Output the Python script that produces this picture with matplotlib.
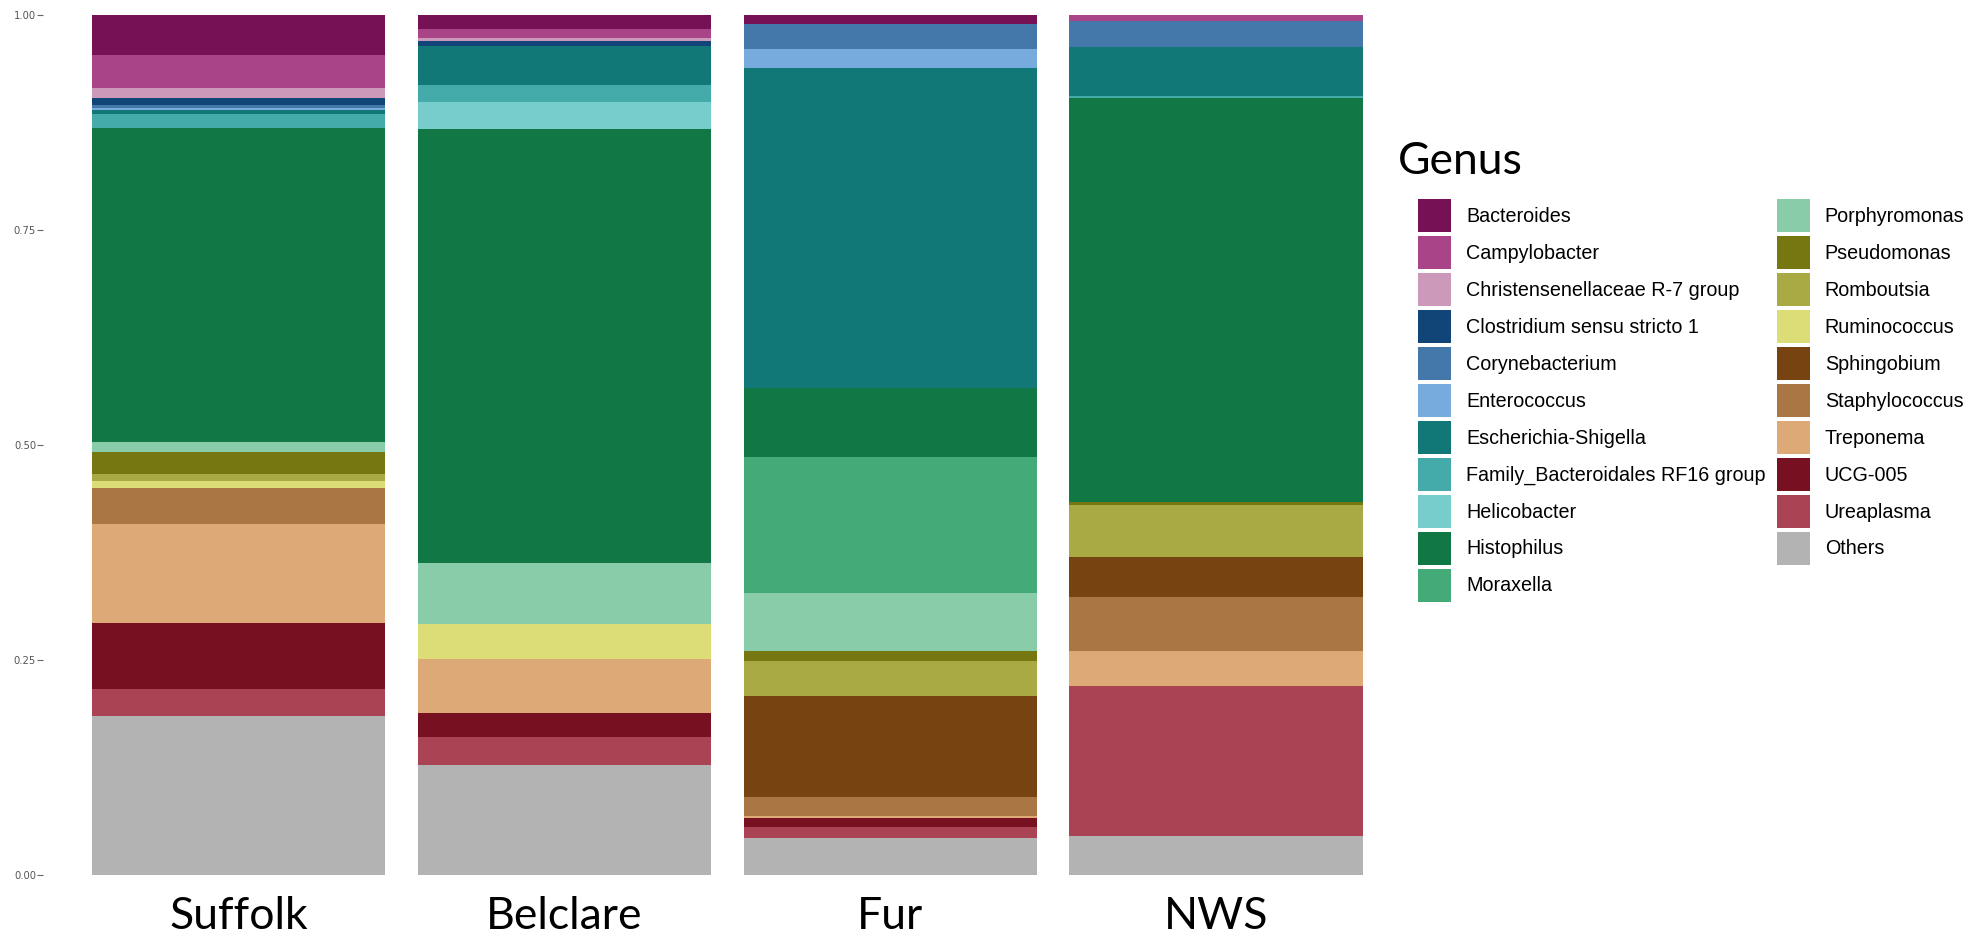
import numpy as np
import matplotlib
matplotlib.use("Agg")
import matplotlib.pyplot as plt
from matplotlib.patches import Patch

sites = ["Suffolk", "Belclare", "Fur", "NWS"]

genera = ["Bacteroides", "Campylobacter", "Christensenellaceae R-7 group",
          "Clostridium sensu stricto 1", "Corynebacterium", "Enterococcus",
          "Escherichia-Shigella", "Family_Bacteroidales RF16 group", "Helicobacter",
          "Histophilus", "Moraxella", "Porphyromonas", "Pseudomonas", "Romboutsia",
          "Ruminococcus", "Sphingobium", "Staphylococcus", "Treponema", "UCG-005",
          "Ureaplasma", "Others"]

colours = ["#771155", "#AA4488", "#CC99BB", "#114477", "#4477AA", "#77AADD",
           "#117777", "#44AAAA", "#77CCCC", "#117744", "#44AA77", "#88CCAA",
           "#777711", "#AAAA44", "#DDDD77", "#774411", "#AA7744", "#DDAA77",
           "#771122", "#AA4455", "#B3B3B3"]

# relative abundance per site, same order as genera
suffolk = [0.047, 0.038, 0.012, 0.008, 0.003, 0.002, 0.005, 0.016, 0.0, 0.366, 0.0,
           0.012, 0.025, 0.008, 0.009, 0.0, 0.041, 0.116, 0.077, 0.031, 0.185]
belclare = [0.016, 0.011, 0.003, 0.006, 0.0, 0.0, 0.045, 0.020, 0.031, 0.505, 0.0,
            0.071, 0.0, 0.0, 0.041, 0.0, 0.0, 0.063, 0.027, 0.033, 0.128]
fur = [0.010, 0.001, 0.0, 0.0, 0.029, 0.022, 0.371, 0.0, 0.0, 0.081, 0.158,
       0.067, 0.011, 0.041, 0.0, 0.117, 0.022, 0.003, 0.010, 0.013, 0.043]
nws = [0.0, 0.007, 0.0, 0.0, 0.030, 0.0, 0.057, 0.002, 0.0, 0.470, 0.0,
       0.0, 0.004, 0.060, 0.0, 0.047, 0.062, 0.041, 0.0, 0.175, 0.045]

ticks = [0.0, 0.25, 0.5, 0.75, 1.0]

W, H = 1978, 934
fig = plt.figure(figsize=(W / 100, H / 100), dpi=100)
ax = fig.add_axes([43 / W, 59 / H, (1411.5 - 43) / W, 860 / H])

# fill position: each column scaled to 1, first genus on top
table = np.array([suffolk, belclare, fur, nws], dtype=float)
table = table / table.sum(axis=1, keepdims=True)
x = np.arange(1, len(sites) + 1)
bottom = np.zeros(len(sites))
for i in range(len(genera) - 1, -1, -1):
    ax.bar(x, table[:, i], bottom=bottom, width=0.9, color=colours[i], linewidth=0)
    bottom += table[:, i]

ax.set_xlim(0.4, 4.6)
ax.set_ylim(0, 1)
for s in ax.spines.values():
    s.set_visible(False)

ax.set_yticks(ticks, labels=["%.2f" % t for t in ticks])
ax.tick_params(axis="y", length=4, width=0.8, color="#666666", pad=1,
               labelsize=7.2, labelcolor="#555555")
ax.set_xticks(x, labels=sites)
ax.tick_params(axis="x", length=0, pad=15)
for lab in ax.get_xticklabels():
    lab.set_fontfamily("Lato")
    lab.set_fontsize(32)
    lab.set_verticalalignment("top")

fig.text(1398 / W, 1 - 141 / H, "Genus", fontsize=32, family="Lato", va="top", ha="left")

handles = [Patch(facecolor=c, edgecolor="none") for c in colours]
fig.legend(handles, genera, loc="upper left", bbox_to_anchor=(1418 / W, 1 - 199 / H),
           ncol=2, frameon=False, borderpad=0, borderaxespad=0,
           prop={"family": "Liberation Sans", "size": 14.2},
           handlelength=1.68, handleheight=2.2, labelspacing=0.2,
           handletextpad=0.76, columnspacing=0.56)

fig.savefig("out.png", dpi=100, facecolor="white")
